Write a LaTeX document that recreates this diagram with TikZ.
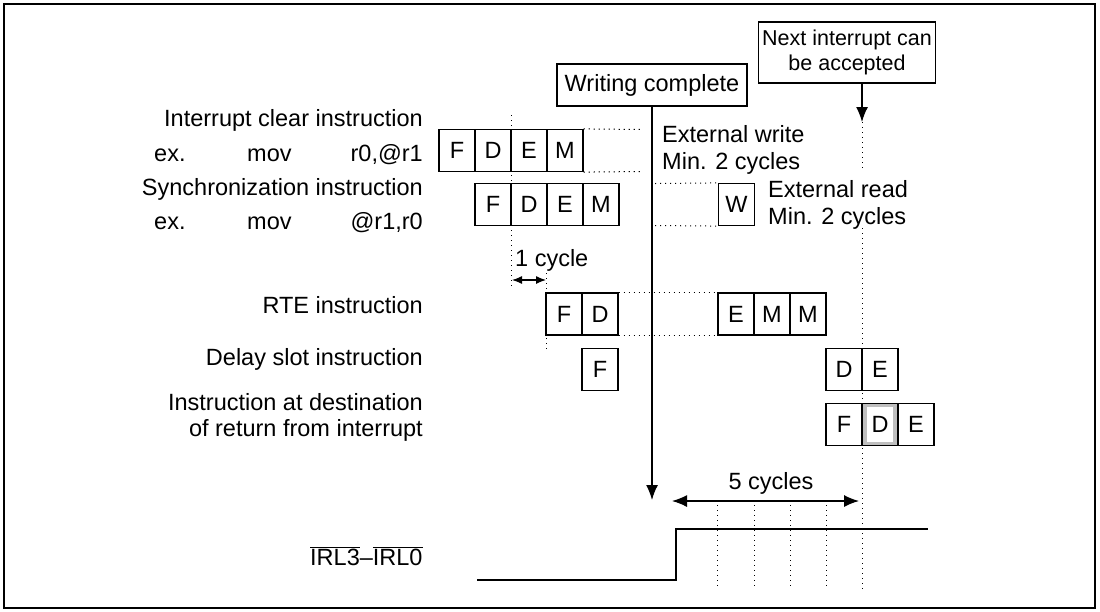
\documentclass[tikz,border=0pt]{standalone}
\usepackage{fontspec}
\setmainfont{Liberation Sans}
\usetikzlibrary{arrows.meta}
\begin{document}
\begin{tikzpicture}[x=1pt,y=-1pt,
  font=\fontsize{23.5}{26}\selectfont,
  cell/.style={draw, line width=1.2pt, minimum width=36pt, minimum height=42pt, inner sep=0pt},
  lbl/.style={inner sep=0pt, anchor=base east},
  lblw/.style={inner sep=0pt, anchor=base west},
  lblc/.style={inner sep=0pt, anchor=base},
  guide/.style={line width=1pt, dash pattern=on 1.2pt off 3.8pt},
  bigarrow/.style={line width=1.4pt, -{Latex[length=15pt,width=12pt]}},
  dimarrow/.style={line width=1.3pt, {Latex[length=15pt,width=12pt]}-{Latex[length=15pt,width=12pt]}},
  smallarrow/.style={line width=1.2pt, {Latex[length=10pt,width=8pt]}-{Latex[length=10pt,width=8pt]}},
  note/.style={draw, line width=1.2pt, inner sep=0pt, align=center}]
\useasboundingbox (0,0) rectangle (1100,611);
\draw[line width=1.8pt] (4,4) rectangle (1095,608);

% left labels
\node[lbl] (l1) at (423,126) {Interrupt clear instruction};
\node[lblw] (l2a) at (154,161) {ex.};
\node[lblw] (l2b) at (247,161) {mov};
\node[lbl] (l2c) at (423,161) {r0,@r1};
\node[lbl] (l3) at (423,195) {Synchronization instruction};
\node[lblw] (l4a) at (154,229) {ex.};
\node[lblw] (l4b) at (247,229) {mov};
\node[lbl] (l4c) at (423,229) {@r1,r0};
\node[lbl] (l5) at (423,313) {RTE instruction};
\node[lbl] (l6) at (423,365) {Delay slot instruction};
\node[lbl] (l7) at (423,410) {Instruction at destination};
\node[lbl] (l8) at (423,436) {of return from interrupt};
\node[lblw] (irl) at (310,565) {$\overline{\hbox{IRL3}}$–$\overline{\hbox{IRL0}}$};

% row 1
\node[cell] (af) at (457,150.5) {F};
\node[cell] (ad) at (493,150.5) {D};
\node[cell] (ae) at (529,150.5) {E};
\node[cell] (am) at (565,150.5) {M};
% row 2
\node[cell] (bf) at (493,204.5) {F};
\node[cell] (bd) at (529,204.5) {D};
\node[cell] (be) at (565,204.5) {E};
\node[cell] (bm) at (601,204.5) {M};
\node[cell] (bw) at (736.5,204.5) {W};
% RTE
\node[cell] (cf) at (564,314) {F};
\node[cell] (cd) at (600,314) {D};
\node[cell] (ce) at (736,314) {E};
\node[cell] (cm) at (772,314) {M};
\node[cell] (cm2) at (808,314) {M};
% delay slot
\node[cell] (df) at (600,369.5) {F};
\node[cell] (dd) at (844,369.5) {D};
\node[cell] (de) at (880,369.5) {E};
% destination
\node[cell] (ef) at (844,424.5) {F};
\node[cell, fill=gray!50] (ed) at (880,424.5) {};
\node[fill=white, inner sep=0pt, minimum width=26pt, minimum height=35pt] (edt) at (ed.center) {D};
\node[cell] (ee) at (916,424.5) {E};

% notes
\node[note, minimum width=190pt, minimum height=42pt] (wc) at (652,85) {Writing complete};
\node[note, minimum width=177pt, minimum height=61pt, font=\fontsize{21.5}{25}\selectfont] (ni) at (847,52.5) {Next interrupt can\\be accepted};

\coordinate (wcend) at (652,500);
\coordinate (na) at (862,122);
\draw[bigarrow] (wc.south -| wcend) -- (wcend);
\draw[bigarrow] (ni.south -| na) -- (na);

% side texts
\node[lblw] (ew1) at (662,142) {External write};
\node[lblw] (ew2) at (662,169) {Min. 2 cycles};
\node[lblw] (er1) at (768,197) {External read};
\node[lblw] (er2) at (768,224) {Min. 2 cycles};
\node[lblw] (c1) at (515,266) {1 cycle};
\node[lblc] (c5) at (771,489) {5 cycles};

% horizontal guides
\draw[guide] (am.north east) -- (643,129.5);
\draw[guide] (am.south east) -- (643,171.5);
\draw[guide] (655,183.5) -- (bw.north west);
\draw[guide] (655,225.5) -- (bw.south west);
\draw[guide] (cd.north east) -- (ce.north west);
\draw[guide] (cd.south east) -- (ce.south west);
% vertical guides
\draw[guide] (511,115) -- (511,286);
\draw[guide] (546,273) -- (546,350);
\draw[guide] (na) -- (862,168);
\draw[guide] (862,228) -- (862,590);
\foreach \x in {717,754,790,826} \draw[guide] (\x,505) -- (\x,588);

% cycle dimensions
\draw[smallarrow] (512,280) -- (546,280);
\draw[dimarrow] (672,501) -- (859,501);

% signal
\draw[line width=2.2pt] (477,580) -- (676,580) -- (676,529) -- (928,529);
\end{tikzpicture}
\end{document}
